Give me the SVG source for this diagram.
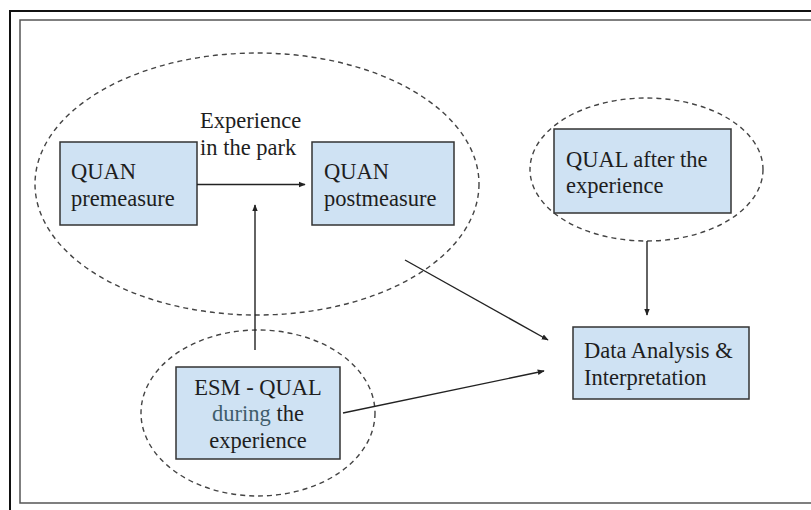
<svg xmlns="http://www.w3.org/2000/svg" width="811" height="510" viewBox="0 0 811 510">
<defs>
<marker id="ah" viewBox="0 0 10 10" refX="9" refY="5" markerWidth="7" markerHeight="7" markerUnits="userSpaceOnUse" orient="auto">
<path d="M0,1 L10,5 L0,9 Z" fill="#222"/>
</marker>
</defs>
<style>
.box{fill:#cfe2f3;stroke:#333;stroke-width:1.5}
.grp{fill:none;stroke:#444;stroke-width:1.4;stroke-dasharray:5 4}
.t{font-family:"Liberation Serif","Times New Roman",serif;font-size:22.5px;fill:#1e1e1e}
.c{fill:none;stroke:#222;stroke-width:1.4;marker-end:url(#ah)}
</style>
<rect width="811" height="510" fill="#fff"/>
<rect x="10" y="11" width="830" height="530" fill="none" stroke="#111" stroke-width="2"/>
<rect x="20" y="20" width="820" height="483" fill="none" stroke="#555" stroke-width="1.5"/>

<g id="group-quan">
<ellipse class="grp" cx="257" cy="184" rx="222" ry="131"/>
</g>
<g id="group-esm">
<ellipse class="grp" cx="258" cy="413" rx="117" ry="83"/>
</g>
<g id="group-qual">
<ellipse class="grp" cx="646.5" cy="169.5" rx="116.5" ry="71.5"/>
</g>

<g id="label-experience">
<text class="t" x="200" y="128">Experience</text>
<text class="t" x="200" y="155">in the park</text>
</g>

<g id="node-premeasure">
<rect class="box" x="60" y="142" width="137" height="83"/>
<text class="t" x="71" y="179">QUAN</text>
<text class="t" x="71" y="206">premeasure</text>
</g>

<g id="node-postmeasure">
<rect class="box" x="312" y="142" width="142" height="83"/>
<text class="t" x="324" y="179">QUAN</text>
<text class="t" x="324" y="206">postmeasure</text>
</g>

<g id="node-qual-after">
<rect class="box" x="554" y="129" width="177" height="84"/>
<text class="t" x="566" y="167">QUAL after the</text>
<text class="t" x="566" y="193">experience</text>
</g>

<g id="node-esm">
<rect class="box" x="176" y="367" width="164" height="92"/>
<text class="t" x="258" y="395" text-anchor="middle">ESM - QUAL</text>
<text class="t" x="258" y="421" text-anchor="middle"><tspan fill="#3f5d6b">during</tspan> the</text>
<text class="t" x="258" y="448" text-anchor="middle">experience</text>
</g>

<g id="node-data">
<rect class="box" x="573" y="327" width="176" height="72"/>
<text class="t" x="584" y="358">Data Analysis &amp;</text>
<text class="t" x="584" y="385">Interpretation</text>
</g>

<g id="connectors">
<line class="c" x1="197" y1="184.5" x2="305" y2="184.5"/>
<line class="c" x1="255" y1="350" x2="255" y2="205"/>
<line class="c" x1="647" y1="241" x2="647" y2="315"/>
<line class="c" x1="405" y1="260" x2="548" y2="340"/>
<line class="c" x1="343" y1="413" x2="544" y2="371"/>
</g>
</svg>
